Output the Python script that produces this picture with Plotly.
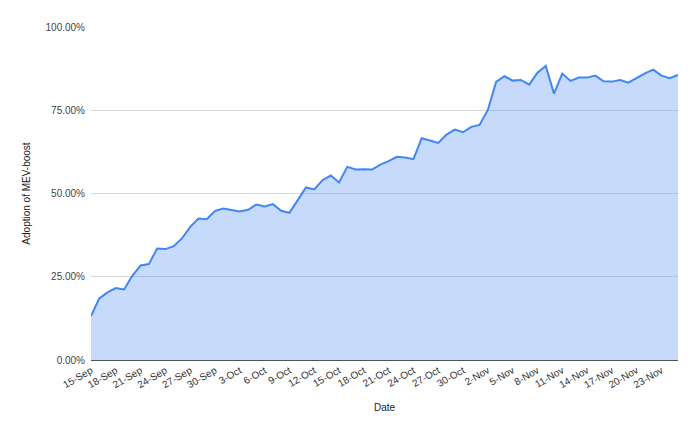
import plotly.graph_objects as go
import pandas as pd

start_date = "2022-09-15"
end_date = "2022-11-25"

adoption_pct = [
    13.2, 18.5, 20.3, 21.6, 21.2, 25.3, 28.4, 28.8, 33.5, 33.3,   # 15-24 Sep
    34.2, 36.5, 40.0, 42.5, 42.3, 44.8,                           # 25-30 Sep
    45.5, 45.0, 44.6, 45.1, 46.7, 46.1, 46.8, 44.8, 44.2, 48.0,   # 1-10 Oct
    51.8, 51.2, 54.0, 55.4, 53.3, 58.0, 57.2, 57.3, 57.2, 58.7,   # 11-20 Oct
    59.7, 61.0, 60.8, 60.3, 66.6, 65.9, 65.2, 67.7, 69.2, 68.4,   # 21-30 Oct
    70.0,                                                         # 31 Oct
    70.6, 75.1, 83.5, 85.2, 83.9, 84.1, 82.7, 86.3, 88.3, 80.0,   # 1-10 Nov
    86.0, 83.8, 84.8, 84.8, 85.4, 83.7, 83.6, 84.1, 83.3, 84.8,   # 11-20 Nov
    86.1, 87.2, 85.4, 84.6, 85.6,                                 # 21-25 Nov
]

dates = pd.date_range(start_date, end_date, freq="D")
values = [v / 100 for v in adoption_pct]

y_ticks = [0, 0.25, 0.5, 0.75, 1.0]

fig = go.Figure()
fig.add_trace(go.Scatter(
    x=dates, y=values, mode="lines",
    line=dict(color="#4285F4", width=2),
    fill="tozeroy", fillcolor="rgba(66,133,244,0.3)",
    hoverinfo="x+y",
))

fig.update_layout(
    width=700, height=432,
    margin=dict(l=83, r=30, t=19, b=80),
    paper_bgcolor="white", plot_bgcolor="white",
    font=dict(family="Liberation Sans, Arial, sans-serif", size=10, color="#444"),
    showlegend=False,
    xaxis=dict(
        type="date",
        range=[dates[0], dates[-1]],
        tick0=start_date, dtick=3 * 86400000,
        tickformat="%-d-%b", tickangle=-30,
        showgrid=False, zeroline=False,
        showline=True, linecolor="#555", linewidth=1,
        ticks="", tickfont=dict(size=10, color="#333"),
        title=dict(text="Date", font=dict(size=10, color="#222"), standoff=14),
    ),
    yaxis=dict(
        range=[0, 1.0],
        tickvals=y_ticks, tickformat=".2%",
        showgrid=True, gridcolor="#d9d9d9", gridwidth=1,
        zeroline=False, ticks="", ticklabelstandoff=5,
        tickfont=dict(size=10, color="#444"),
        title=dict(text="Adoption of MEV-boost", font=dict(size=10, color="#222"), standoff=13),
    ),
)

fig.write_html("out.html")
